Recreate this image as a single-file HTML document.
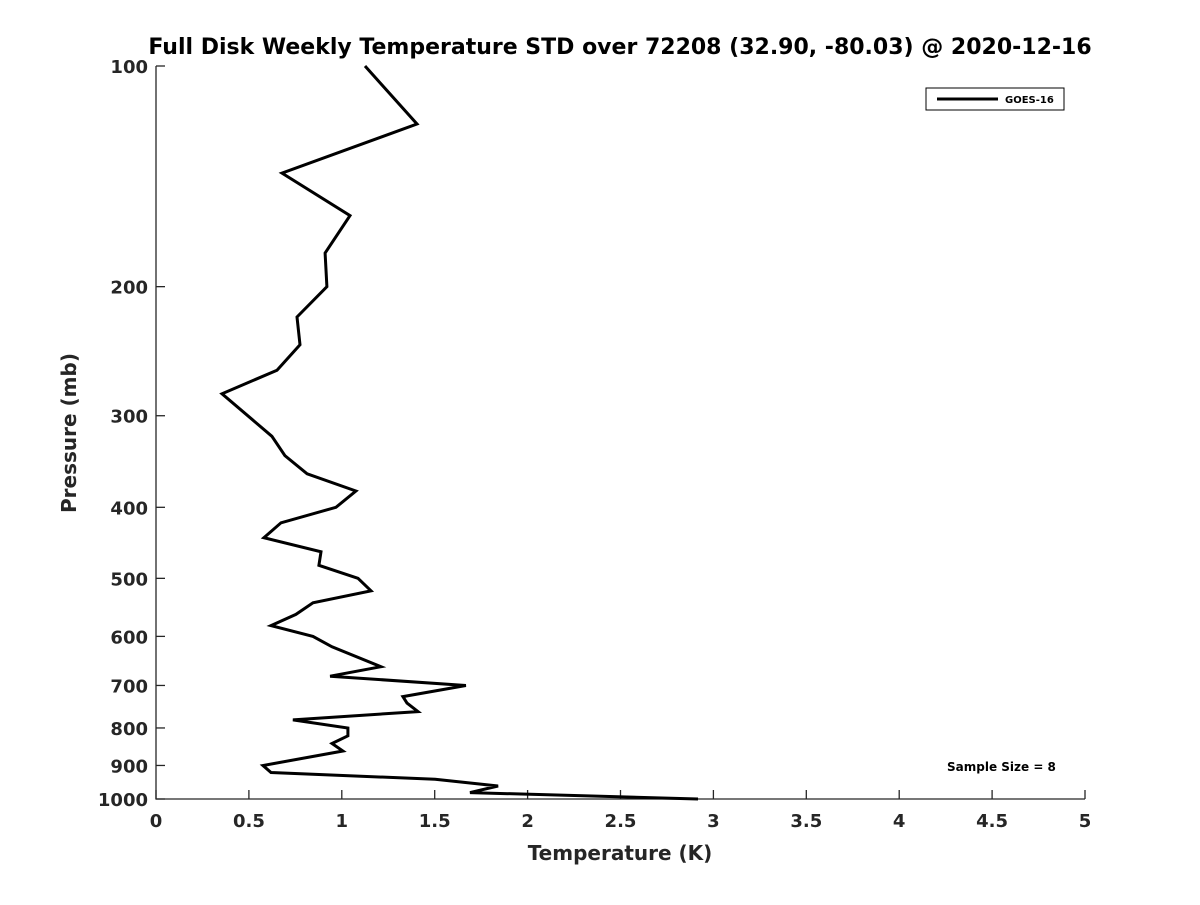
<!DOCTYPE html>
<html><head><meta charset="utf-8"><style>
body{margin:0;background:#fff}
svg text{font-family:"DejaVu Sans","Liberation Sans",sans-serif;font-weight:bold;fill:#262626}
</style></head><body>
<svg width="1200" height="900" viewBox="0 0 1200 900">
<rect width="1200" height="900" fill="#fff"/>
<text x="620" y="54" text-anchor="middle" font-size="22" fill="#000" style="fill:#000">Full Disk Weekly Temperature STD over 72208 (32.90, -80.03) @ 2020-12-16</text>
<g id="axes"></g>
<path id="series" fill="none" stroke="#000" stroke-width="3" stroke-linejoin="miter"/>
<text x="620" y="860" text-anchor="middle" font-size="20">Temperature (K)</text>
<text transform="translate(76,433) rotate(-90)" text-anchor="middle" font-size="20">Pressure (mb)</text>
<g>
<rect x="926" y="88" width="138" height="22" fill="#fff" stroke="#000" stroke-width="1"/>
<line x1="937" y1="99" x2="998" y2="99" stroke="#000" stroke-width="3"/>
<text x="1005" y="103" font-size="10" style="fill:#000">GOES-16</text>
</g>
<text x="947" y="771" font-size="12" style="fill:#000">Sample Size = 8</text>
</svg>
<script>
const temps=[1.125,1.405,0.678,1.044,0.910,0.920,0.759,0.775,0.651,0.355,0.624,0.694,0.813,1.076,0.969,0.673,0.581,0.888,0.877,1.087,1.157,0.845,0.753,0.619,0.845,0.947,1.211,0.937,1.668,1.329,1.351,1.410,0.737,1.033,1.033,0.947,1.006,0.576,0.619,1.502,1.841,1.690,2.917];
const pressures=[100,120,140,160,180,200,220,240,260,280,320,340,360,380,400,420,440,460,480,500,520,540,560,580,600,620,660,680,700,725,740,760,780,800,820,840,860,900,920,940,960,980,1000];
const xTicks=[0,0.5,1,1.5,2,2.5,3,3.5,4,4.5,5];
const xTickLabels=["0","0.5","1","1.5","2","2.5","3","3.5","4","4.5","5"];
const yTicks=[100,200,300,400,500,600,700,800,900,1000];
const X0=156,X1=1085,Y0=66,Y1=799;
function xs(v){return X0+(v-0)/(5-0)*(X1-X0);}
function ys(p){return Y0+(Math.log10(p)-2)/(1)*(Y1-Y0);}
const NS="http://www.w3.org/2000/svg";
const g=document.getElementById('axes');
function mk(t,a){const e=document.createElementNS(NS,t);for(const k in a)e.setAttribute(k,a[k]);g.appendChild(e);return e;}
let ax=mk('path',{d:`M${X0},${Y0}V${Y1}H${X1}`,fill:'none',stroke:'#262626','stroke-width':1.3});


xTicks.forEach((v,i)=>{
 const x=xs(v);
 const l=mk('line',{x1:x,y1:Y1,x2:x,y2:Y1-9,stroke:'#262626','stroke-width':1.3});
 
 
 const t=mk('text',{x:x,y:Y1+28,'text-anchor':'middle','font-size':18});
 t.textContent=xTickLabels[i];
 
 
});
yTicks.forEach(p=>{
 const y=ys(p);
 const l=mk('line',{x1:X0,y1:y,x2:X0+9,y2:y,stroke:'#262626','stroke-width':1.3});
 
 
 const t=mk('text',{x:X0-8,y:y+7,'text-anchor':'end','font-size':18});
 t.textContent=String(p);
 
 
});
document.getElementById('series').setAttribute('d',temps.map((v,i)=>(i?'L':'M')+xs(v).toFixed(1)+','+ys(pressures[i]).toFixed(1)).join(''));
</script>
</body></html>
